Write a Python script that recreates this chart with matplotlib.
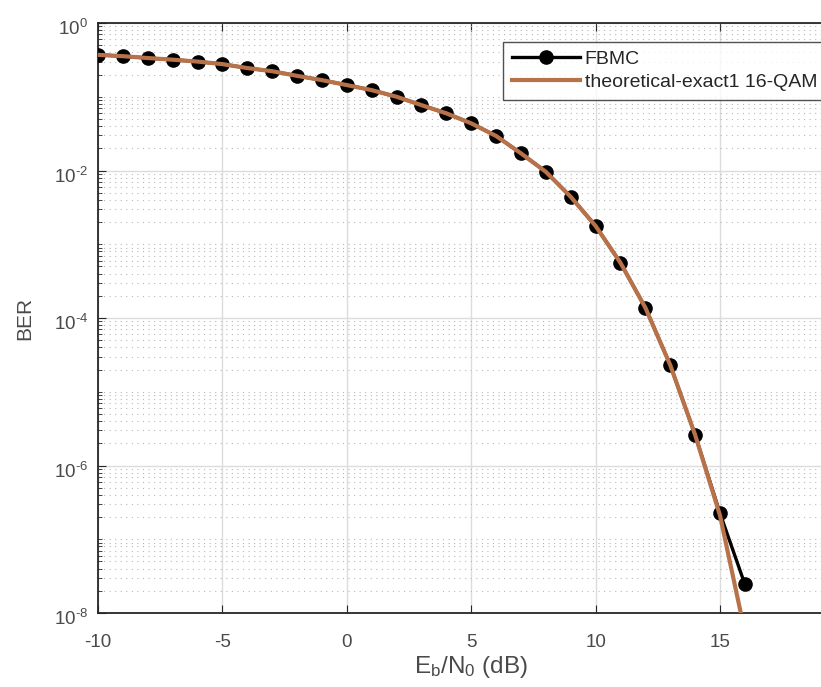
import numpy as np
import matplotlib
matplotlib.use("Agg")
import matplotlib.pyplot as plt
import matplotlib.transforms as mtransforms
from matplotlib.ticker import FixedLocator, NullFormatter, FixedFormatter

plt.rcParams['font.family'] = ['Liberation Sans', 'DejaVu Sans']
plt.rcParams['mathtext.fontset'] = 'custom'
plt.rcParams['mathtext.rm'] = 'Liberation Sans'
plt.rcParams['mathtext.it'] = 'Liberation Sans'

ebn0 = list(range(-10, 17))
ber_fbmc = [0.37, 0.355, 0.335, 0.318, 0.300, 0.277, 0.245, 0.222, 0.192, 0.168,
            0.144, 0.123, 0.100, 0.077, 0.0596, 0.0436, 0.0294, 0.0171, 0.0096,
            0.0044, 0.00177, 5.6e-4, 1.38e-4, 2.3e-5, 2.6e-6, 2.25e-7, 2.45e-8]
ber_theory = [0.37, 0.355, 0.335, 0.318, 0.300, 0.277, 0.245, 0.222, 0.192, 0.168,
              0.144, 0.123, 0.100, 0.077, 0.0596, 0.0436, 0.0294, 0.0171, 0.0096,
              0.0044, 0.00177, 5.6e-4, 1.38e-4, 2.3e-5, 2.6e-6, 2.1e-7, 5.5e-9]
xticks = [-10, -5, 0, 5, 10, 15]
xticklabels = ['-10', '-5', '0', '5', '10', '15']
yticks = [1e-8, 1e-6, 1e-4, 1e-2, 1e0]
yticklabels = [r'$10^{\text{-}8}$', r'$10^{\text{-}6}$', r'$10^{\text{-}4}$', r'$10^{\text{-}2}$', r'$10^{0}$']

fig = plt.figure(figsize=(8.21, 6.87), dpi=100)
W, H = 821, 687
left, right, top, bottom = 98, 844.4, 23, 613
ax = fig.add_axes([left / W, 1 - bottom / H, (right - left) / W, (bottom - top) / H])

ax.set_yscale('log')
ax.set_xlim(-10, 20)
ax.set_ylim(1e-8, 1e0)

ax.plot(ebn0, ber_fbmc, '-o', color='black', lw=2.4, ms=9.5, label='FBMC', zorder=3)
ax.plot(ebn0, ber_theory, '-', color='#b8724a', lw=3.0, label='theoretical-exact1 16-QAM', zorder=4)

ax.xaxis.set_major_locator(FixedLocator(xticks))
ax.xaxis.set_major_formatter(FixedFormatter(xticklabels))
ax.yaxis.set_major_locator(FixedLocator(yticks))
ax.yaxis.set_major_formatter(FixedFormatter(yticklabels))
minor_y = [m * 10.0 ** e for e in range(-8, 0) for m in range(1, 10) if not (m == 1 and e % 2 == 0)]
ax.yaxis.set_minor_locator(FixedLocator(minor_y))
ax.yaxis.set_minor_formatter(NullFormatter())

ax.grid(True, which='major', color='#dcdcdc', lw=1.0, ls='-')
ax.yaxis.grid(True, which='minor', color='#b8b8b8', lw=0.8, ls=(0, (1, 4)))
ax.set_axisbelow(True)

for s in ax.spines.values():
    s.set_color('#262626')
    s.set_linewidth(1.3)
ax.tick_params(axis='both', which='both', direction='in', colors='#262626', labelcolor='#4a4a4a')
ax.tick_params(axis='x', which='major', top=True, length=6, labelsize=13.5, pad=15)
ax.tick_params(axis='y', which='major', right=True, length=6, labelsize=13.5, pad=7)
ax.tick_params(axis='y', which='minor', right=True, length=3)

# shift y tick labels slightly down like the reference
offset = mtransforms.ScaledTranslation(0, -4 / 100, fig.dpi_scale_trans)
for lab in ax.get_yticklabels():
    lab.set_transform(lab.get_transform() + offset)

ax.set_xlabel(r'E$_\mathregular{b}$/N$_\mathregular{0}$ (dB)', fontsize=17.5, color='#4a4a4a', labelpad=2)
ax.set_ylabel('BER', fontsize=15, color='#4a4a4a', labelpad=14)

leg = ax.legend(loc='upper left', bbox_to_anchor=(503 / W, 1 - 41.5 / H), bbox_transform=fig.transFigure,
                fontsize=14, frameon=True, fancybox=False, handlelength=3.5, handletextpad=0.25,
                borderpad=0.45, labelspacing=0.3, borderaxespad=0)
leg.get_frame().set_edgecolor('#262626')
leg.get_frame().set_linewidth(1.0)
for t in leg.get_texts():
    t.set_color('#262626')

fig.savefig('out.png', dpi=100)
